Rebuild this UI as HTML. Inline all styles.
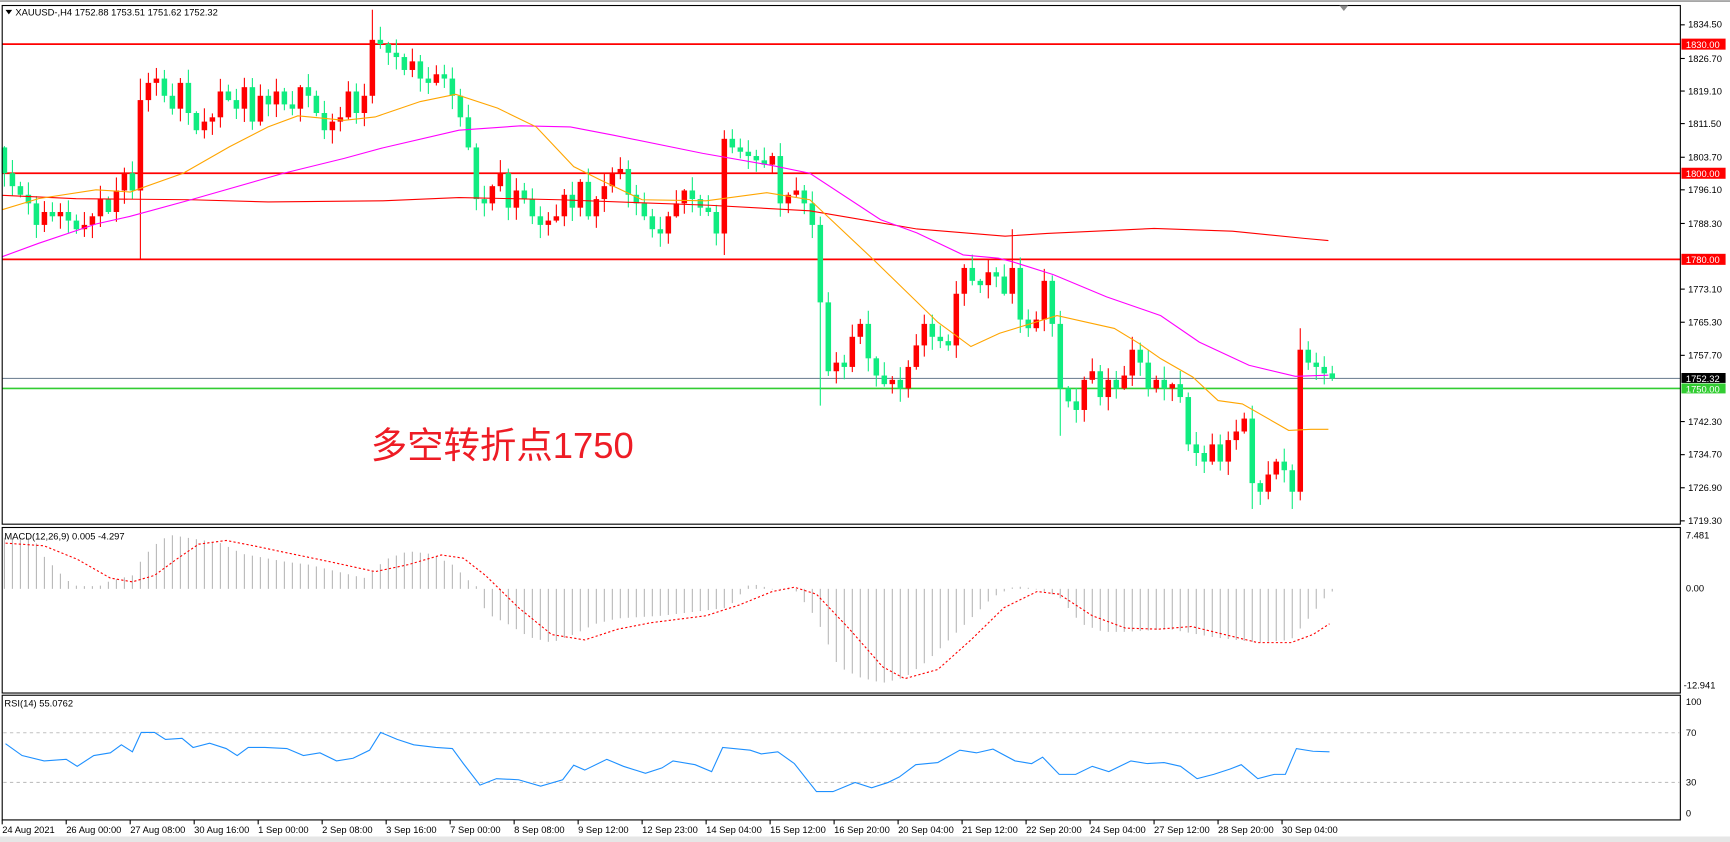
<!DOCTYPE html>
<html><head><meta charset="utf-8"><style>
html,body{margin:0;padding:0;background:#fff;width:1730px;height:842px;overflow:hidden}
svg{display:block}
text{font-family:"Liberation Sans","Noto Sans CJK SC",sans-serif}
</style></head><body>
<svg id="s" width="1730" height="842" viewBox="0 0 1568 763" preserveAspectRatio="none" xmlns="http://www.w3.org/2000/svg">
<rect x="0" y="0" width="1568" height="763" fill="#fff"/>
<line x1="0" y1="1" x2="1568" y2="1" stroke="#9a9a9a" stroke-width="1.5"/>
<rect x="0" y="758" width="1568" height="5" fill="#e6e6e6"/>
<g id="main"></g>
<!-- frames -->
<rect x="2" y="5" width="1521" height="470" fill="none" stroke="#000" stroke-width="1"/>
<rect x="2" y="478" width="1521" height="150" fill="none" stroke="#000" stroke-width="1"/>
<rect x="2" y="630" width="1521" height="113" fill="none" stroke="#000" stroke-width="1"/>
<polygon points="1214,5 1222,5 1218,10" fill="#8a8a8a"/>
<!-- title -->
<polygon points="5,9 11,9 8,13" fill="#000"/>
<text x="14" y="14" font-size="8.5" fill="#000">XAUUSD-,H4  1752.88 1753.51 1751.62 1752.32</text>
<text x="4" y="489" font-size="8.5" fill="#000">MACD(12,26,9) 0.005 -4.297</text>
<text x="4" y="640" font-size="8.5" fill="#000">RSI(14) 55.0762</text>
<!-- Chinese annotation -->
<text x="336" y="415" font-size="33" fill="#ee1c25" font-family="'Liberation Sans','Noto Sans CJK SC',sans-serif">多空转折点1750</text>
<!-- right axis labels main -->
<g font-size="8.5" fill="#000">
<text x="1530" y="25">1834.50</text>
<text x="1530" y="56">1826.70</text>
<text x="1530" y="85.5">1819.10</text>
<text x="1530" y="115">1811.50</text>
<text x="1530" y="145.5">1803.70</text>
<text x="1530" y="175">1796.10</text>
<text x="1530" y="205.5">1788.30</text>
<text x="1530" y="265">1773.10</text>
<text x="1530" y="295">1765.30</text>
<text x="1530" y="325">1757.70</text>
<text x="1530" y="385">1742.30</text>
<text x="1530" y="414.5">1734.70</text>
<text x="1530" y="445">1726.90</text>
<text x="1530" y="475">1719.30</text>
<text x="1528" y="488">7.481</text>
<text x="1528" y="536">0.00</text>
<text x="1526" y="624">-12.941</text>
<text x="1528" y="639">100</text>
<text x="1528" y="667">70</text>
<text x="1528" y="712">30</text>
<text x="1528" y="740">0</text>
</g>
<g stroke="#000" stroke-width="1">
<line x1="1523" y1="22.5" x2="1527" y2="22.5"/><line x1="1523" y1="53" x2="1527" y2="53"/>
<line x1="1523" y1="82.5" x2="1527" y2="82.5"/><line x1="1523" y1="112" x2="1527" y2="112"/>
<line x1="1523" y1="142.5" x2="1527" y2="142.5"/><line x1="1523" y1="172" x2="1527" y2="172"/>
<line x1="1523" y1="202.5" x2="1527" y2="202.5"/><line x1="1523" y1="262" x2="1527" y2="262"/>
<line x1="1523" y1="292" x2="1527" y2="292"/><line x1="1523" y1="322" x2="1527" y2="322"/>
<line x1="1523" y1="382" x2="1527" y2="382"/><line x1="1523" y1="412" x2="1527" y2="412"/>
<line x1="1523" y1="442" x2="1527" y2="442"/><line x1="1523" y1="472" x2="1527" y2="472"/>
</g>
<!-- time axis -->
<g font-size="8.5" fill="#000">
<text x="2" y="755">24 Aug 2021</text>
<text x="60" y="755">26 Aug 00:00</text>
<text x="118" y="755">27 Aug 08:00</text>
<text x="176" y="755">30 Aug 16:00</text>
<text x="234" y="755">1 Sep 00:00</text>
<text x="292" y="755">2 Sep 08:00</text>
<text x="350" y="755">3 Sep 16:00</text>
<text x="408" y="755">7 Sep 00:00</text>
<text x="466" y="755">8 Sep 08:00</text>
<text x="524" y="755">9 Sep 12:00</text>
<text x="582" y="755">12 Sep 23:00</text>
<text x="640" y="755">14 Sep 04:00</text>
<text x="698" y="755">15 Sep 12:00</text>
<text x="756" y="755">16 Sep 20:00</text>
<text x="814" y="755">20 Sep 04:00</text>
<text x="872" y="755">21 Sep 12:00</text>
<text x="930" y="755">22 Sep 20:00</text>
<text x="988" y="755">24 Sep 04:00</text>
<text x="1046" y="755">27 Sep 12:00</text>
<text x="1104" y="755">28 Sep 20:00</text>
<text x="1162" y="755">30 Sep 04:00</text>
</g>
<g id="ticks"></g>
<!-- level labels -->
<rect x="1524" y="35" width="40" height="10" fill="#ff0000"/><text x="1528" y="43.5" font-size="8.5" fill="#fff">1830.00</text>
<rect x="1524" y="152" width="40" height="10" fill="#ff0000"/><text x="1528" y="160.5" font-size="8.5" fill="#fff">1800.00</text>
<rect x="1524" y="230" width="40" height="10" fill="#ff0000"/><text x="1528" y="238.5" font-size="8.5" fill="#fff">1780.00</text>
<rect x="1524" y="338" width="40" height="9" fill="#000"/><text x="1528" y="346" font-size="8.5" fill="#fff">1752.32</text>
<rect x="1524" y="347.5" width="40" height="9" fill="#32cd32"/><text x="1528" y="355.5" font-size="8.5" fill="#fff">1750.00</text>
</svg>
<script>
(function(){
var NS="http://www.w3.org/2000/svg";
var g=document.getElementById('main');
var html='';
function Y(p){return 235+(1780-p)*3.9;}
function X(i){return 4+7.25*i;}
// MACD / RSI dashed levels
html+='<line x1="3" y1="664" x2="1522" y2="664" stroke="#c0c0c0" stroke-dasharray="3,3"/>';
html+='<line x1="3" y1="709" x2="1522" y2="709" stroke="#c0c0c0" stroke-dasharray="3,3"/>';
// horizontal levels
html+='<line x1="2" y1="'+Y(1752.32)+'" x2="1523" y2="'+Y(1752.32)+'" stroke="#778899" stroke-width="1"/>';
html+='<line x1="2" y1="352" x2="1523" y2="352" stroke="#32cd32" stroke-width="1.5"/>';
[1830,1800,1780].forEach(function(p){html+='<line x1="2" y1="'+Y(p)+'" x2="1523" y2="'+Y(p)+'" stroke="#ff0000" stroke-width="1.6"/>';});
var C=[1800,1797,1795,1793,1788,1791,1790,1791,1789,1787,
1788,1790,1794,1791,1796,1800,1796,1817,1821,1822,
1818,1815,1821,1814,1810,1812,1813,1819,1817,1815,
1820,1812,1818,1816,1819,1816,1815,1820,1818,1814,
1810,1812,1813,1819,1814,1818,1831,1830,1828,1827,
1824,1826,1822,1821,1823,1822,1818,1813,1806,1794,
1793,1797,1800,1792,1796,1794,1790,1788,1789,1790,
1795,1792,1798,1790,1794,1797,1800,1801,1795,1793,
1790,1787,1786,1790,1793,1796,1794,1792,1791,1786,
1808,1806,1805,1804,1803,1802,1804,1793,1795,1796,
1793,1788,1770,1754,1756,1755,1762,1765,1757,1753,
1751,1752,1750,1755,1760,1765,1762,1761,1760,1772,
1778,1775,1774,1777,1776,1772,1778,1766,1764,1766,
1775,1765,1750,1747,1745,1752,1754,1748,1752,1750,
1753,1759,1756,1750,1752,1750,1751,1748,1737,1735,
1733,1737,1733,1738,1740,1743,1728,1726,1730,1733,
1731,1726,1759,1756,1755,1753.5,1752.32];
var HX={17:[1822,1780],20:[1824,0],46:[1838,0],90:[1810,1781],102:[0,1746],126:[1787,0],132:[0,1739],141:[1762,0],156:[0,1722],161:[0,1722],162:[1764,1724],97:[1807,0]};
var prev=1806;
for(var i=0;i<C.length;i++){
 var o=prev,c=C[i];var hi=Math.max(o,c)+Math.abs(Math.sin(i*1.7))*2.8+0.3,lo=Math.min(o,c)-Math.abs(Math.cos(i*2.3))*2.8-0.3;
 if(HX[i]){if(HX[i][0])hi=HX[i][0];if(HX[i][1])lo=HX[i][1];}
 var col=c>=o?'#ff0000':'#10ec80';var x=X(i);
 html+='<line x1="'+x+'" y1="'+Y(hi)+'" x2="'+x+'" y2="'+Y(lo)+'" stroke="'+col+'" stroke-width="1"/>';
 var t=Y(Math.max(o,c)),b=Y(Math.min(o,c));if(b-t<1.2){b=t+1.2;}
 html+='<rect x="'+(x-2.5)+'" y="'+t+'" width="5" height="'+(b-t)+'" fill="'+col+'"/>';
 prev=c;
}
function pl(pts,col,w,extra){return '<polyline fill="none" stroke="'+col+'" stroke-width="'+w+'" '+(extra||'')+' points="'+pts.map(function(p){return p[0]+','+p[1];}).join(' ')+'"/>';}
// MAs
var red=[[2,177],[69,180],[173,181],[243,183],[347,182],[416,179],[507,181],[643,186],[734,191],[831,207.5],[911,214],[949,211.5],[1046,207],[1117,209.5],[1182,216],[1204,218]];
var mag=[[2,232.6],[35,220.5],[87,203],[118,196],[173,181],[257,157],[312,143.5],[347,134],[416,118],[472,114],[517,115],[556,122.5],[637,139],[700,150],[734,157],[798,199],[831,211],[873,231],[905,234],[917,237],[955,249],[1003,269],[1052,286],[1087,310],[1132,331],[1174,341],[1204,340]];
var org=[[2,190],[35,180],[87,172],[118,174],[166,157],[208,133],[243,115],[270,105],[312,109],[340,106],[381,92],[413,85.5],[451,98],[486,115],[520,151],[544,163],[582,181],[640,182],[695,174.6],[734,181],[792,235.6],[850,292],[880,314],[906,302],[958,286],[1010,297.6],[1032,311],[1052,325],[1081,341.6],[1104,363],[1126,366],[1168,390],[1188,389],[1204,389]];
html+=pl(red,'#ff0000',1)+pl(mag,'#ff00ff',1)+pl(org,'#ffa500',1);
// MACD histogram
var hz=[[5,1000],[30,1000],[40,1035],[60,1078],[70,1090],[90,1090],[100,1080],[120,1070],[130,1035],[145,1005],[155,995],[170,1000],[200,1010],[220,1030],[260,1045],[280,1050],[330,1075],[350,1040],[370,1025],[390,1030],[410,1050],[425,1080],[435,1095],[440,1140],[460,1160],[480,1185],[500,1195],[520,1180],[540,1160],[560,1150],[600,1145],[620,1140],[660,1130],[680,1085],[700,1095],[720,1095],[740,1150],[760,1240],[780,1260],[800,1270],[820,1260],[840,1230],[860,1190],[880,1150],[900,1110],[920,1090],[940,1095],[960,1110],[980,1160],[1000,1175],[1020,1175],[1060,1170],[1100,1185],[1140,1195],[1170,1190],[1190,1140],[1205,1100]];
function interp(a,x){for(var k=0;k<a.length-1;k++){if(x>=a[k][0]&&x<=a[k+1][0]){var t=(x-a[k][0])/(a[k+1][0]-a[k][0]);return a[k][1]+t*(a[k+1][1]-a[k][1]);}}return x<a[0][0]?a[0][1]:a[a.length-1][1];}
var z0=533.6;
for(var i=0;i<C.length;i++){var x=X(i);var v=interp(hz,x)*0.4873;if(Math.abs(v-z0)<0.6)v=z0+0.6;html+='<line x1="'+x+'" y1="'+z0+'" x2="'+x+'" y2="'+v+'" stroke="#b8b8b8" stroke-width="1"/>';}
var sig=[[5,1010],[40,1015],[70,1040],[100,1075],[120,1082],[140,1070],[160,1040],[180,1012],[205,1005],[230,1015],[260,1028],[300,1045],[340,1063],[370,1050],[400,1032],[420,1038],[440,1070],[470,1130],[500,1180],[530,1190],[560,1170],[590,1158],[640,1145],[670,1125],[700,1100],[720,1092],[740,1105],[770,1170],[800,1240],[820,1262],[850,1245],[880,1190],[910,1130],[940,1100],[960,1105],[990,1145],[1020,1168],[1050,1170],[1080,1165],[1110,1180],[1140,1195],[1170,1195],[1190,1180],[1205,1160]].map(function(p){return [p[0],p[1]*0.4873];});
html+=pl(sig,'#ff0000',1,'stroke-dasharray="2,2"');
var rsi=[[5,1383],[20,1405],[40,1415],[60,1412],[70,1425],[85,1405],[100,1400],[110,1385],[120,1398],[128,1362],[140,1362],[150,1375],[165,1373],[175,1390],[190,1382],[205,1392],[215,1405],[225,1390],[240,1390],[260,1392],[275,1405],[290,1400],[305,1415],[320,1410],[335,1395],[345,1362],[360,1375],[375,1385],[395,1390],[410,1392],[420,1420],[435,1460],[450,1448],[470,1450],[490,1462],[510,1450],[520,1423],[530,1432],[550,1412],[565,1425],[585,1438],[600,1428],[610,1415],[630,1422],[645,1435],[655,1390],[680,1395],[690,1402],[705,1398],[720,1420],[740,1472],[755,1472],[775,1455],[790,1465],[805,1455],[815,1445],[830,1422],[850,1418],[870,1395],[885,1400],[900,1393],[920,1415],[935,1420],[945,1408],[960,1440],[975,1440],[990,1425],[1005,1435],[1025,1415],[1040,1420],[1055,1418],[1070,1425],[1085,1448],[1100,1440],[1115,1430],[1125,1422],[1140,1448],[1155,1440],[1165,1440],[1175,1392],[1190,1397],[1205,1398]].map(function(p){return [p[0],p[1]*0.4873];});
html+=pl(rsi,'#1e90ff',1);
g.innerHTML=html;
var tk='';[2,60,118,176,234,292,350,408,466,524,582,640,698,756,814,872,930,988,1046,1104,1162].forEach(function(x){tk+='<line x1="'+x+'" y1="743" x2="'+x+'" y2="747" stroke="#000"/>';});
document.getElementById('ticks').innerHTML=tk;
})();
</script>
</body></html>
